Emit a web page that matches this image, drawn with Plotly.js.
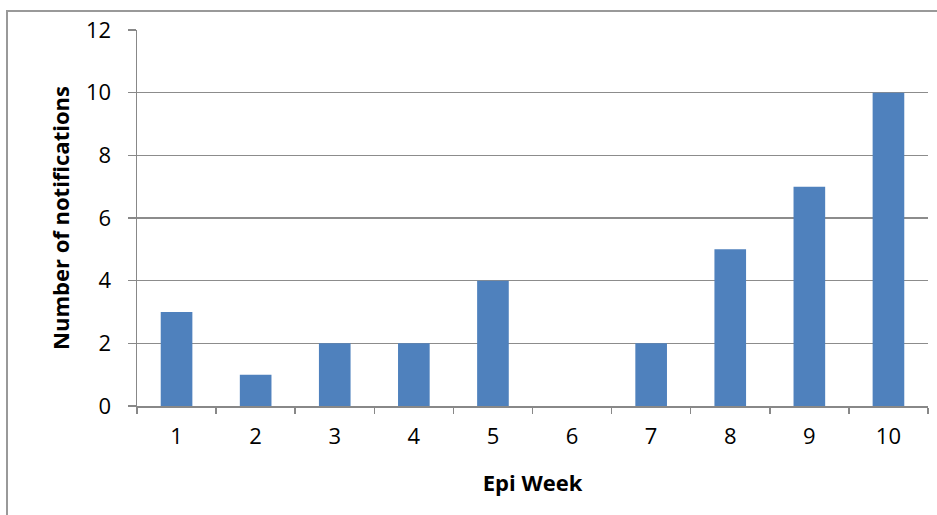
<!DOCTYPE html>
<html>
<head>
<meta charset="utf-8">
<script src="https://cdn.plot.ly/plotly-3.0.1.min.js"></script>
<style>
html,body{margin:0;padding:0;background:#fff;}
#wrap{position:relative;width:937px;height:515px;overflow:hidden;}
#frame{position:absolute;left:6px;top:10px;width:960px;height:540px;border:2px solid #999;box-sizing:border-box;pointer-events:none;}
#chart{position:absolute;left:0;top:0;width:937px;height:515px;}
</style>
</head>
<body>
<div id="wrap">
<div id="chart"></div>
<div id="frame"></div>
</div>
<script>
var weeks = ['1','2','3','4','5','6','7','8','9','10'];
var notifications = [3,1,2,2,4,0,2,5,7,10];
var xTitle = 'Epi Week';
var yTitle = 'Number of notifications';

var font = '"Open Sans", sans-serif';

Plotly.newPlot('chart', [{
  type: 'bar',
  x: weeks,
  y: notifications,
  marker: {color: '#4F81BD'},
  hoverinfo: 'x+y'
}], {
  width: 937, height: 515,
  margin: {l: 137, r: 9, t: 30, b: 109},
  paper_bgcolor: 'rgba(0,0,0,0)',
  plot_bgcolor: '#fff',
  bargap: 0.6,
  showlegend: false,
  font: {family: font, color: '#000', size: 22},
  xaxis: {
    type: 'category',
    tickson: 'boundaries',
    ticks: 'outside', ticklen: 6, tickcolor: '#888', tickwidth: 1.5,
    showline: true, linecolor: '#888', linewidth: 1.5,
    showgrid: false,
    ticklabelstandoff: 10,
    tickfont: {size: 22, color: '#000'},
    title: {text: xTitle, font: {size: 22, weight: 'bold', color: '#000'}, standoff: 26}
  },
  yaxis: {
    range: [0, 12], dtick: 2, tick0: 0,
    ticks: 'outside', ticklen: 8, tickcolor: '#888', tickwidth: 1.5,
    showline: true, linecolor: '#888', linewidth: 1.5,
    showgrid: true, gridcolor: '#8c8c8c', gridwidth: 1.5,
    zeroline: false,
    ticklabelstandoff: 12,
    tickfont: {size: 22, color: '#000'},
    title: {text: yTitle, font: {size: 22, weight: 'bold', color: '#000'}, standoff: 10}
  }
}, {displayModeBar: false, staticPlot: true});
</script>
</body>
</html>
